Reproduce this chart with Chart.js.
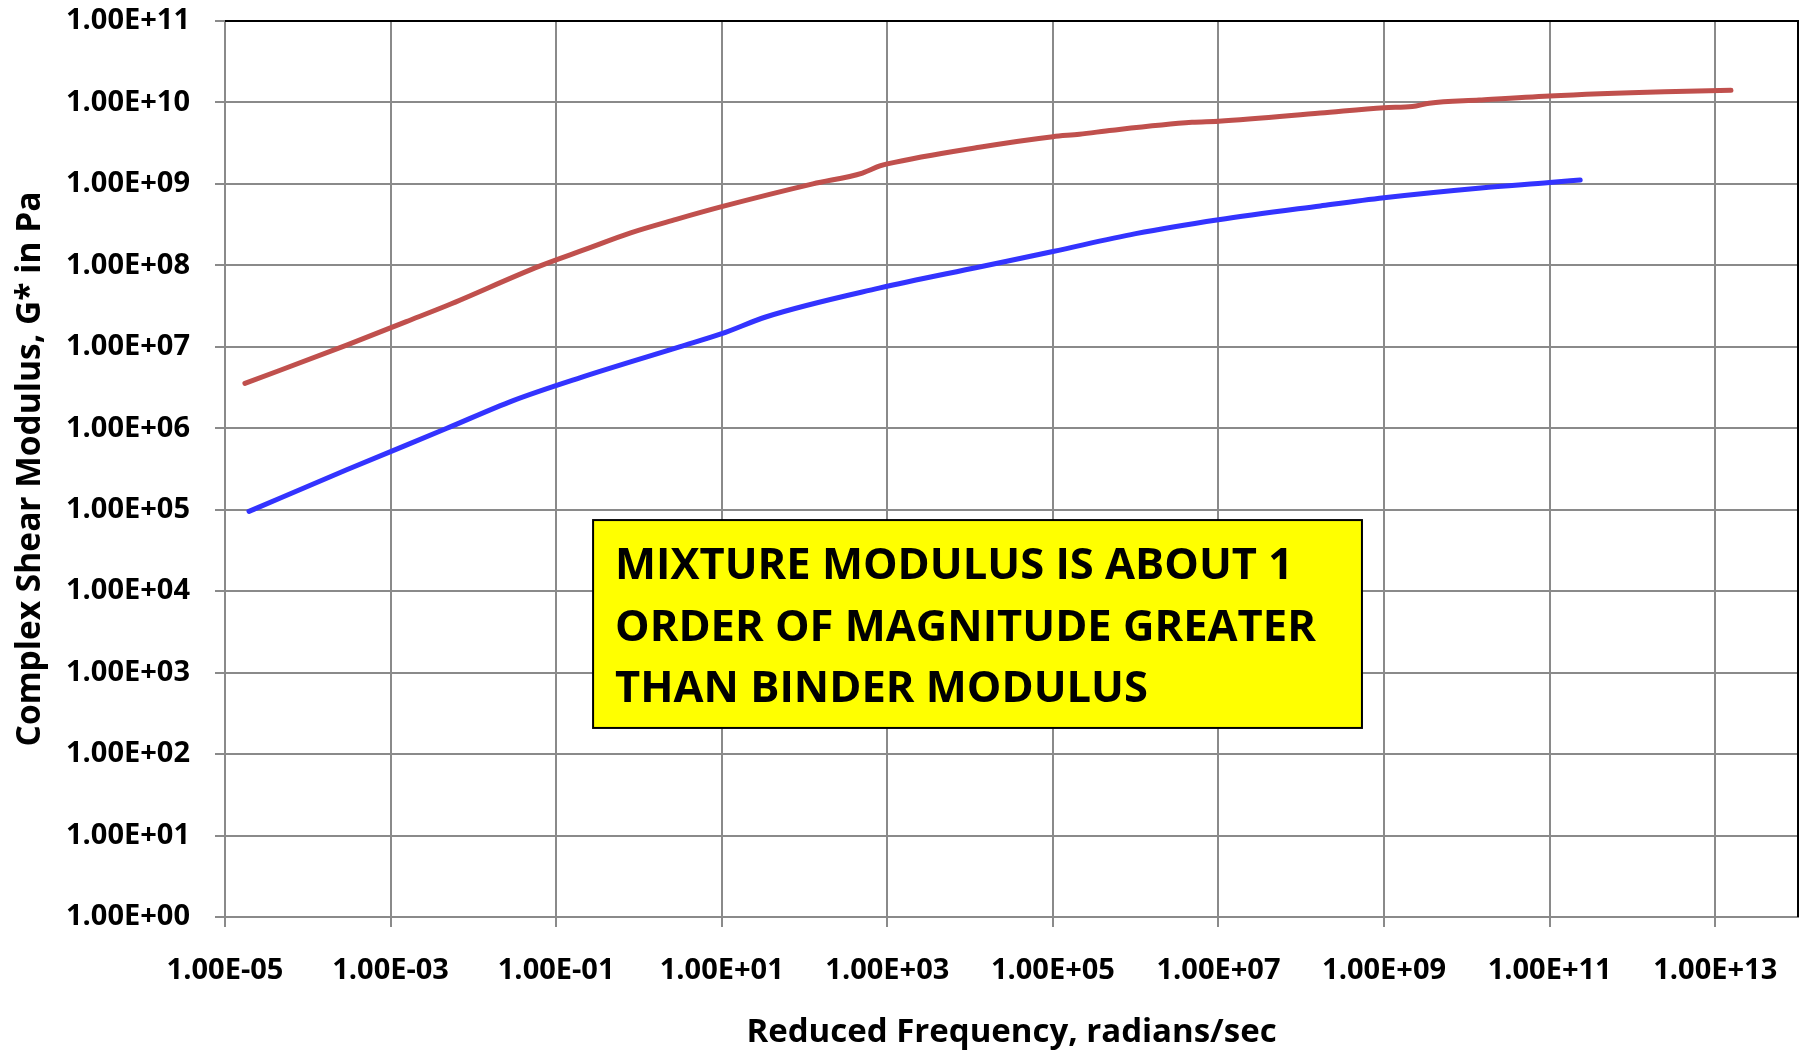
<!DOCTYPE html>
<html>
<head>
<meta charset="utf-8">
<script src="https://cdn.jsdelivr.net/npm/chart.js@4/dist/chart.umd.min.js"></script>
<style>
  html, body { margin: 0; padding: 0; background: #ffffff; }
  #wrap { width: 1801px; height: 1052px; }
</style>
</head>
<body>
<div id="wrap"><canvas id="c" width="1801" height="1052"></canvas></div>
<script>
// Mixture (red) — reduced frequency (rad/s) and |G*| (Pa)
const freqMixture = [1.74e-5, 2.95e-4, 1.55e-3, 4.9e-3, 6.3e-2, 0.224, 0.794, 2.82, 10, 126, 501, 813, 1000, 1.29e4, 1e5, 2.09e5, 5.25e5, 4.79e6, 1e7, 1.7e8, 1e9, 2.19e9, 3.51e9, 1.41e10, 1e11, 2.45e12, 1.55e13];
const gMixture    = [3.55e6, 1.05e7, 2.04e7, 3.24e7, 9.8e7, 1.57e8, 2.51e8, 3.67e8, 5.25e8, 1.0e9, 1.36e9, 1.66e9, 1.76e9, 2.82e9, 3.8e9, 4.07e9, 4.57e9, 5.71e9, 5.89e9, 7.41e9, 8.63e9, 8.91e9, 9.77e9, 1.07e10, 1.2e10, 1.35e10, 1.41e10];

// Binder (blue)
const freqBinder = [1.95e-5, 2.95e-4, 4.79e-3, 3.02e-2, 0.193, 3.09, 10, 34.7, 794, 1.29e4, 1e5, 1e6, 1e7, 1.7e8, 1e9, 1.48e10, 1e11, 2.34e11];
const gBinder    = [9.55e4, 3.09e5, 1.0e6, 2.19e6, 4.17e6, 1.0e7, 1.45e7, 2.34e7, 5.25e7, 9.55e7, 1.48e8, 2.45e8, 3.63e8, 5.37e8, 6.76e8, 8.91e8, 1.04e9, 1.12e9];

const xTickValues = [1e-5, 1e-3, 1e-1, 1e1, 1e3, 1e5, 1e7, 1e9, 1e11, 1e13];
const xTickLabels = ['1.00E-05','1.00E-03','1.00E-01','1.00E+01','1.00E+03','1.00E+05','1.00E+07','1.00E+09','1.00E+11','1.00E+13'];
const yTickValues = [1e0, 1e1, 1e2, 1e3, 1e4, 1e5, 1e6, 1e7, 1e8, 1e9, 1e10, 1e11];
const yTickLabels = ['1.00E+00','1.00E+01','1.00E+02','1.00E+03','1.00E+04','1.00E+05','1.00E+06','1.00E+07','1.00E+08','1.00E+09','1.00E+10','1.00E+11'];

const xTitle = 'Reduced Frequency, radians/sec';
const yTitle = 'Complex Shear Modulus, G* in Pa';
const noteLines = ['MIXTURE MODULUS IS ABOUT 1', 'ORDER OF MAGNITUDE GREATER', 'THAN BINDER MODULUS'];

const FONT = '"Open Sans", "Noto Sans", "Liberation Sans", sans-serif';
const GRID = '#8a8a8a';

const toPoints = (xs, ys) => xs.map((x, i) => ({ x: x, y: ys[i] }));

const frameAndNote = {
  id: 'frameAndNote',
  afterDatasetsDraw(chart) {
    const { ctx, chartArea: a } = chart;
    const w = a.right - a.left, h = a.bottom - a.top;
    // annotation box
    const x0 = a.left + 0.234 * w, y0 = a.top + 0.557 * h;
    const x1 = a.left + 0.7228 * w, y1 = a.top + 0.789 * h;
    ctx.save();
    ctx.fillStyle = '#FFFF00';
    ctx.fillRect(x0, y0, x1 - x0, y1 - y0);
    ctx.strokeStyle = '#000000';
    ctx.lineWidth = 2;
    ctx.strokeRect(x0, y0, x1 - x0, y1 - y0);
    ctx.fillStyle = '#000000';
    ctx.font = '700 43.5px ' + FONT;
    ctx.textAlign = 'left';
    ctx.textBaseline = 'alphabetic';
    noteLines.forEach((t, i) => ctx.fillText(t, x0 + 22, y0 + 59 + i * 61.5));
    ctx.restore();
  },
  afterDraw(chart) {
    const { ctx, chartArea: a } = chart;
    ctx.save();
    ctx.strokeStyle = '#000000';
    ctx.lineWidth = 2;
    ctx.beginPath();
    ctx.moveTo(a.left, a.top);
    ctx.lineTo(a.right, a.top);
    ctx.lineTo(a.right, a.bottom);
    ctx.stroke();
    ctx.restore();
  }
};

const lineStyle = {
  borderWidth: 5,
  pointRadius: 0,
  cubicInterpolationMode: 'monotone',
  borderCapStyle: 'round',
  borderJoinStyle: 'round',
  fill: false
};

new Chart(document.getElementById('c'), {
  type: 'line',
  data: {
    datasets: [
      Object.assign({
        label: 'Mixture',
        data: toPoints(freqMixture, gMixture),
        borderColor: '#C0504D',
        backgroundColor: '#C0504D'
      }, lineStyle),
      Object.assign({
        label: 'Binder',
        data: toPoints(freqBinder, gBinder),
        borderColor: '#3333FF',
        backgroundColor: '#3333FF'
      }, lineStyle)
    ]
  },
  options: {
    responsive: false,
    animation: false,
    devicePixelRatio: 1,
    layout: { padding: { top: 21, right: 3, bottom: 0, left: 0 } },
    plugins: {
      legend: { display: false },
      tooltip: { enabled: false },
      title: { display: false }
    },
    scales: {
      x: {
        type: 'logarithmic',
        position: 'bottom',
        min: 1e-5,
        max: 1e14,
        afterBuildTicks: (s) => { s.ticks = xTickValues.map(v => ({ value: v })); },
        afterFit: (s) => { s.height = 135; s.paddingLeft = 0; s.paddingRight = 0; },
        ticks: {
          autoSkip: false,
          maxRotation: 0,
          minRotation: 0,
          padding: 26,
          color: '#000000',
          font: { family: FONT, size: 29, weight: '700' },
          callback: (v, i) => xTickLabels[i]
        },
        grid: { color: GRID, lineWidth: 2, tickLength: 10, drawTicks: true },
        border: { color: GRID, width: 2 },
        title: {
          display: true,
          text: xTitle,
          color: '#000000',
          font: { family: FONT, size: 33, weight: '700' },
          padding: { top: 0, bottom: 0 }
        }
      },
      y: {
        type: 'logarithmic',
        position: 'left',
        min: 1,
        max: 1e11,
        afterBuildTicks: (s) => { s.ticks = yTickValues.map(v => ({ value: v })); },
        afterFit: (s) => { s.width = 225; s.paddingTop = 0; s.paddingBottom = 0; },
        ticks: {
          autoSkip: false,
          padding: 25,
          color: '#000000',
          font: { family: FONT, size: 29, weight: '700' },
          callback: (v, i) => yTickLabels[i]
        },
        grid: { color: GRID, lineWidth: 2, tickLength: 10, drawTicks: true },
        border: { color: GRID, width: 2 },
        title: {
          display: true,
          text: yTitle,
          color: '#000000',
          font: { family: FONT, size: 33.5, weight: '700' },
          padding: { top: 10, bottom: 0 }
        }
      }
    }
  },
  plugins: [frameAndNote]
});
</script>
</body>
</html>
